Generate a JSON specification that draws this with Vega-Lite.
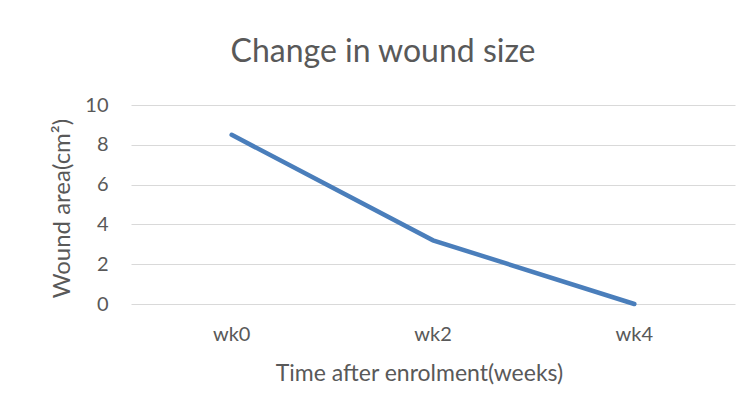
{
  "$schema": "https://vega.github.io/schema/vega-lite/v6.json",
  "width": 604,
  "height": 199,
  "autosize": {"type": "none"},
  "padding": {"left": 131, "top": 105, "right": 19, "bottom": 114},
  "background": "white",
  "title": {
    "text": "Change in wound size",
    "font": "Lato",
    "fontSize": 32,
    "fontWeight": "normal",
    "color": "#595959",
    "anchor": "middle",
    "dx": -50,
    "offset": 26
  },
  "data": {
    "values": [
      {"week": "wk0", "area": 8.5},
      {"week": "wk2", "area": 3.2},
      {"week": "wk4", "area": 0}
    ]
  },
  "mark": {"type": "line", "color": "#4a7ebb", "strokeWidth": 4.5, "strokeCap": "round"},
  "encoding": {
    "x": {
      "field": "week",
      "type": "ordinal",
      "scale": {"paddingInner": 0, "paddingOuter": 0, "type": "band"},
      "axis": {
        "title": "Time after enrolment(weeks)",
        "labelAngle": 0,
        "labelFont": "Lato",
        "labelFontSize": 20,
        "labelColor": "#595959",
        "labelPadding": 20,
        "titleFont": "Lato",
        "titleFontSize": 23,
        "titleFontWeight": "normal",
        "titleColor": "#595959",
        "titlePadding": 18,
        "titleX": 288,
        "titleAlign": "center",
        "domain": false,
        "ticks": false,
        "grid": false
      }
    },
    "y": {
      "field": "area",
      "type": "quantitative",
      "scale": {"domain": [0, 10], "nice": false},
      "axis": {
        "title": "Wound area(cm²)",
        "values": [0, 2, 4, 6, 8, 10],
        "labelFont": "Lato",
        "labelFontSize": 20,
        "labelColor": "#595959",
        "labelPadding": 23,
        "titleFont": "Lato",
        "titleFontSize": 24,
        "titleFontWeight": "normal",
        "titleColor": "#595959",
        "titlePadding": 10,
        "titleY": 103,
        "titleAlign": "center",
        "domain": false,
        "ticks": false,
        "grid": true,
        "gridColor": "#d9d9d9",
        "gridWidth": 1.2
      }
    }
  },
  "config": {"view": {"stroke": null}}
}
